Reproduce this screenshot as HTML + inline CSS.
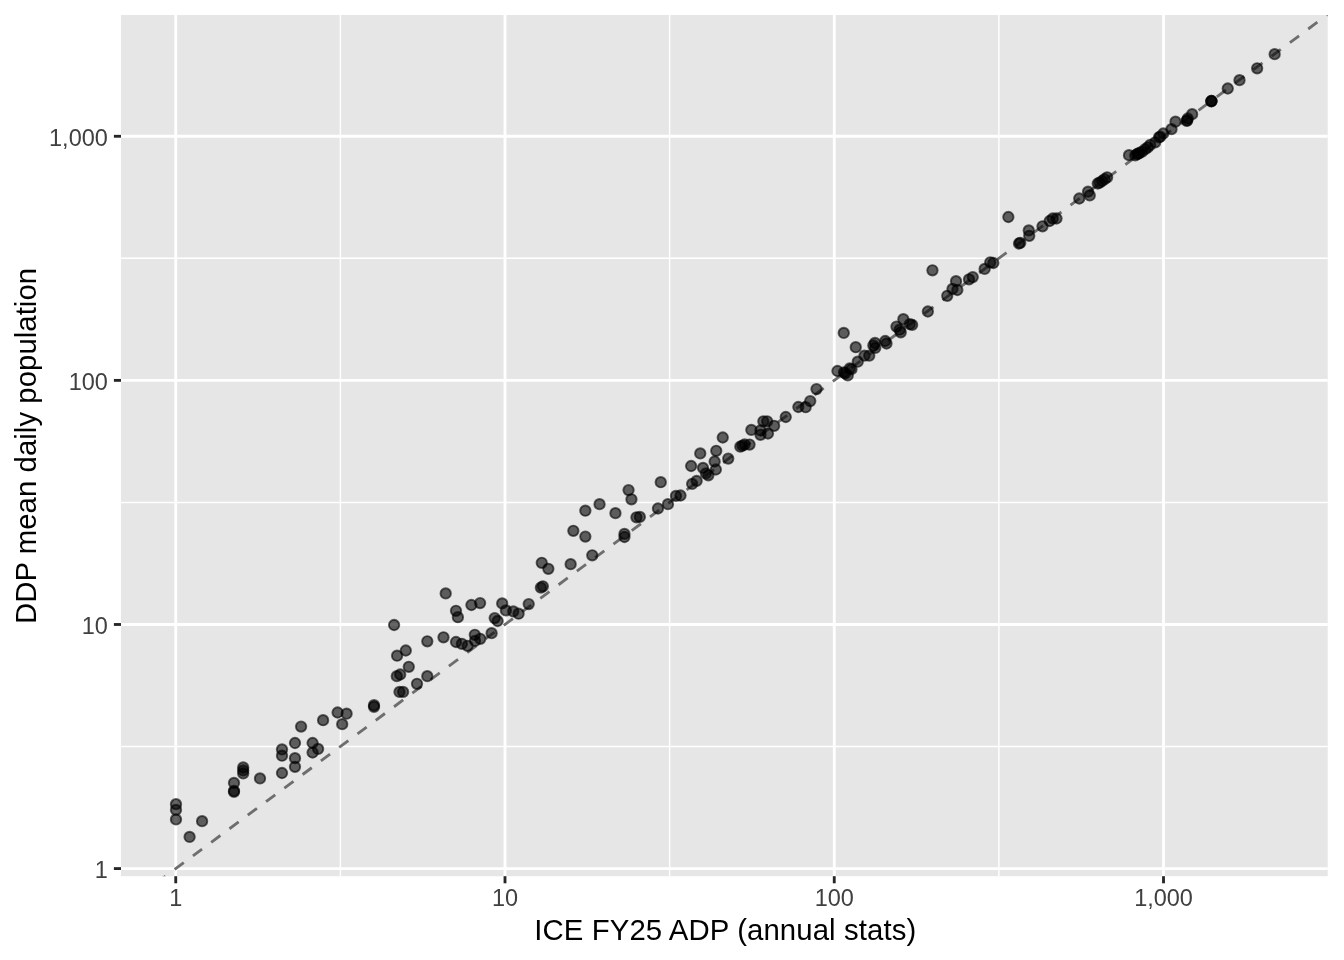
<!DOCTYPE html>
<html><head><meta charset="utf-8"><title>plot</title>
<style>html,body{margin:0;padding:0;background:#fff}svg{display:block;will-change:transform}text{font-family:"Liberation Sans",sans-serif}</style></head>
<body>
<svg width="1344" height="960" viewBox="0 0 1344 960">
<rect x="0" y="0" width="1344" height="960" fill="#ffffff"/>
<rect x="121.0" y="15.0" width="1206.7" height="861.2" fill="#E6E6E6"/>
<clipPath id="c"><rect x="121.0" y="15.0" width="1206.7" height="861.2"/></clipPath>
<g clip-path="url(#c)">
<g stroke="#ffffff" stroke-width="1.42">
<line x1="340.38" y1="10.0" x2="340.38" y2="881.2"/>
<line x1="669.62" y1="10.0" x2="669.62" y2="881.2"/>
<line x1="998.88" y1="10.0" x2="998.88" y2="881.2"/>
<line x1="116.0" y1="746.53" x2="1332.7" y2="746.53"/>
<line x1="116.0" y1="502.43" x2="1332.7" y2="502.43"/>
<line x1="116.0" y1="258.33" x2="1332.7" y2="258.33"/>
</g>
<g stroke="#ffffff" stroke-width="2.85">
<line x1="175.75" y1="10.0" x2="175.75" y2="881.2"/>
<line x1="505.00" y1="10.0" x2="505.00" y2="881.2"/>
<line x1="834.25" y1="10.0" x2="834.25" y2="881.2"/>
<line x1="1163.50" y1="10.0" x2="1163.50" y2="881.2"/>
<line x1="116.0" y1="868.58" x2="1332.7" y2="868.58"/>
<line x1="116.0" y1="624.48" x2="1332.7" y2="624.48"/>
<line x1="116.0" y1="380.38" x2="1332.7" y2="380.38"/>
<line x1="116.0" y1="136.28" x2="1332.7" y2="136.28"/>
</g>
<line x1="121.00" y1="909.17" x2="1327.70" y2="14.55" stroke="#6E6E6E" stroke-width="2.85" stroke-dasharray="11.38 11.38" stroke-dashoffset="1.5"/>
<g fill="#000" fill-opacity="0.6" stroke="#000" stroke-opacity="0.6" stroke-width="1.89">
<circle cx="176.00" cy="804.15" r="5.21"/>
<circle cx="176.00" cy="809.90" r="5.21"/>
<circle cx="176.00" cy="819.40" r="5.21"/>
<circle cx="189.60" cy="836.90" r="5.21"/>
<circle cx="202.10" cy="821.15" r="5.21"/>
<circle cx="234.00" cy="782.90" r="5.21"/>
<circle cx="234.00" cy="790.90" r="5.21"/>
<circle cx="234.00" cy="791.90" r="5.21"/>
<circle cx="243.20" cy="767.40" r="5.21"/>
<circle cx="243.20" cy="770.40" r="5.21"/>
<circle cx="243.20" cy="773.40" r="5.21"/>
<circle cx="260.00" cy="778.40" r="5.21"/>
<circle cx="282.00" cy="749.40" r="5.21"/>
<circle cx="282.00" cy="755.70" r="5.21"/>
<circle cx="282.00" cy="773.00" r="5.21"/>
<circle cx="295.00" cy="743.00" r="5.21"/>
<circle cx="295.00" cy="758.20" r="5.21"/>
<circle cx="295.00" cy="766.80" r="5.21"/>
<circle cx="301.10" cy="726.60" r="5.21"/>
<circle cx="312.60" cy="743.00" r="5.21"/>
<circle cx="312.60" cy="752.50" r="5.21"/>
<circle cx="318.10" cy="748.90" r="5.21"/>
<circle cx="323.10" cy="720.20" r="5.21"/>
<circle cx="337.60" cy="712.50" r="5.21"/>
<circle cx="346.60" cy="713.65" r="5.21"/>
<circle cx="342.20" cy="724.15" r="5.21"/>
<circle cx="374.00" cy="705.20" r="5.21"/>
<circle cx="374.00" cy="706.80" r="5.21"/>
<circle cx="394.10" cy="625.00" r="5.21"/>
<circle cx="397.10" cy="655.70" r="5.21"/>
<circle cx="405.80" cy="650.50" r="5.21"/>
<circle cx="408.80" cy="666.80" r="5.21"/>
<circle cx="396.80" cy="676.15" r="5.21"/>
<circle cx="400.20" cy="674.50" r="5.21"/>
<circle cx="399.50" cy="691.90" r="5.21"/>
<circle cx="403.10" cy="691.90" r="5.21"/>
<circle cx="417.00" cy="683.80" r="5.21"/>
<circle cx="427.30" cy="676.15" r="5.21"/>
<circle cx="427.30" cy="641.30" r="5.21"/>
<circle cx="443.50" cy="637.30" r="5.21"/>
<circle cx="445.70" cy="593.40" r="5.21"/>
<circle cx="456.00" cy="610.80" r="5.21"/>
<circle cx="457.90" cy="617.20" r="5.21"/>
<circle cx="471.40" cy="605.00" r="5.21"/>
<circle cx="480.10" cy="603.10" r="5.21"/>
<circle cx="456.00" cy="642.00" r="5.21"/>
<circle cx="461.90" cy="643.80" r="5.21"/>
<circle cx="467.60" cy="645.80" r="5.21"/>
<circle cx="474.80" cy="634.80" r="5.21"/>
<circle cx="475.00" cy="640.90" r="5.21"/>
<circle cx="480.25" cy="638.80" r="5.21"/>
<circle cx="491.60" cy="633.15" r="5.21"/>
<circle cx="494.70" cy="618.10" r="5.21"/>
<circle cx="497.60" cy="621.00" r="5.21"/>
<circle cx="502.20" cy="603.40" r="5.21"/>
<circle cx="505.90" cy="610.40" r="5.21"/>
<circle cx="513.30" cy="611.40" r="5.21"/>
<circle cx="518.60" cy="613.70" r="5.21"/>
<circle cx="528.70" cy="604.10" r="5.21"/>
<circle cx="541.75" cy="562.80" r="5.21"/>
<circle cx="548.35" cy="568.80" r="5.21"/>
<circle cx="540.85" cy="587.60" r="5.21"/>
<circle cx="542.85" cy="586.30" r="5.21"/>
<circle cx="570.65" cy="564.15" r="5.21"/>
<circle cx="573.35" cy="530.80" r="5.21"/>
<circle cx="585.35" cy="536.60" r="5.21"/>
<circle cx="585.35" cy="510.70" r="5.21"/>
<circle cx="592.25" cy="555.30" r="5.21"/>
<circle cx="599.55" cy="504.15" r="5.21"/>
<circle cx="615.45" cy="513.15" r="5.21"/>
<circle cx="624.45" cy="533.90" r="5.21"/>
<circle cx="624.45" cy="537.00" r="5.21"/>
<circle cx="628.55" cy="490.10" r="5.21"/>
<circle cx="631.45" cy="499.30" r="5.21"/>
<circle cx="636.45" cy="517.30" r="5.21"/>
<circle cx="639.85" cy="516.90" r="5.21"/>
<circle cx="657.95" cy="508.50" r="5.21"/>
<circle cx="660.75" cy="482.20" r="5.21"/>
<circle cx="667.95" cy="504.15" r="5.21"/>
<circle cx="675.95" cy="495.90" r="5.21"/>
<circle cx="680.50" cy="495.50" r="5.21"/>
<circle cx="692.15" cy="483.90" r="5.21"/>
<circle cx="696.65" cy="480.90" r="5.21"/>
<circle cx="691.15" cy="466.00" r="5.21"/>
<circle cx="700.25" cy="453.40" r="5.21"/>
<circle cx="703.00" cy="467.90" r="5.21"/>
<circle cx="705.95" cy="473.40" r="5.21"/>
<circle cx="708.35" cy="475.30" r="5.21"/>
<circle cx="714.65" cy="461.50" r="5.21"/>
<circle cx="715.85" cy="469.50" r="5.21"/>
<circle cx="716.25" cy="450.80" r="5.21"/>
<circle cx="722.75" cy="437.50" r="5.21"/>
<circle cx="728.25" cy="458.60" r="5.21"/>
<circle cx="740.30" cy="446.65" r="5.21"/>
<circle cx="742.45" cy="445.60" r="5.21"/>
<circle cx="744.65" cy="444.50" r="5.21"/>
<circle cx="749.55" cy="444.55" r="5.21"/>
<circle cx="751.35" cy="429.90" r="5.21"/>
<circle cx="760.50" cy="430.40" r="5.21"/>
<circle cx="760.50" cy="434.80" r="5.21"/>
<circle cx="767.95" cy="433.50" r="5.21"/>
<circle cx="763.35" cy="421.30" r="5.21"/>
<circle cx="767.15" cy="421.30" r="5.21"/>
<circle cx="774.15" cy="425.80" r="5.21"/>
<circle cx="785.75" cy="417.00" r="5.21"/>
<circle cx="798.35" cy="407.00" r="5.21"/>
<circle cx="805.65" cy="407.20" r="5.21"/>
<circle cx="810.25" cy="401.10" r="5.21"/>
<circle cx="816.50" cy="389.10" r="5.21"/>
<circle cx="837.45" cy="371.00" r="5.21"/>
<circle cx="844.00" cy="372.30" r="5.21"/>
<circle cx="845.25" cy="373.50" r="5.21"/>
<circle cx="847.75" cy="375.40" r="5.21"/>
<circle cx="849.65" cy="368.50" r="5.21"/>
<circle cx="851.50" cy="369.15" r="5.21"/>
<circle cx="843.75" cy="332.90" r="5.21"/>
<circle cx="857.75" cy="361.65" r="5.21"/>
<circle cx="855.75" cy="347.20" r="5.21"/>
<circle cx="864.45" cy="355.65" r="5.21"/>
<circle cx="869.25" cy="355.65" r="5.21"/>
<circle cx="873.35" cy="345.40" r="5.21"/>
<circle cx="875.00" cy="342.90" r="5.21"/>
<circle cx="875.25" cy="347.90" r="5.21"/>
<circle cx="885.25" cy="341.00" r="5.21"/>
<circle cx="886.50" cy="343.50" r="5.21"/>
<circle cx="896.45" cy="326.60" r="5.21"/>
<circle cx="899.65" cy="329.70" r="5.21"/>
<circle cx="900.75" cy="332.30" r="5.21"/>
<circle cx="903.35" cy="319.15" r="5.21"/>
<circle cx="909.75" cy="324.15" r="5.21"/>
<circle cx="912.15" cy="324.90" r="5.21"/>
<circle cx="927.85" cy="311.50" r="5.21"/>
<circle cx="932.45" cy="270.30" r="5.21"/>
<circle cx="947.25" cy="295.80" r="5.21"/>
<circle cx="952.50" cy="288.90" r="5.21"/>
<circle cx="957.35" cy="290.00" r="5.21"/>
<circle cx="956.05" cy="281.20" r="5.21"/>
<circle cx="969.00" cy="279.30" r="5.21"/>
<circle cx="972.75" cy="277.10" r="5.21"/>
<circle cx="984.65" cy="268.90" r="5.21"/>
<circle cx="990.25" cy="262.30" r="5.21"/>
<circle cx="993.35" cy="263.00" r="5.21"/>
<circle cx="1008.35" cy="217.00" r="5.21"/>
<circle cx="1019.00" cy="243.50" r="5.21"/>
<circle cx="1020.25" cy="242.90" r="5.21"/>
<circle cx="1028.75" cy="230.40" r="5.21"/>
<circle cx="1029.25" cy="235.80" r="5.21"/>
<circle cx="1042.50" cy="226.30" r="5.21"/>
<circle cx="1049.65" cy="221.00" r="5.21"/>
<circle cx="1052.75" cy="218.50" r="5.21"/>
<circle cx="1056.50" cy="218.50" r="5.21"/>
<circle cx="1079.25" cy="198.50" r="5.21"/>
<circle cx="1088.05" cy="191.65" r="5.21"/>
<circle cx="1089.75" cy="195.40" r="5.21"/>
<circle cx="1097.75" cy="183.50" r="5.21"/>
<circle cx="1099.65" cy="182.65" r="5.21"/>
<circle cx="1102.15" cy="181.00" r="5.21"/>
<circle cx="1104.65" cy="179.15" r="5.21"/>
<circle cx="1107.15" cy="177.30" r="5.21"/>
<circle cx="1129.00" cy="155.15" r="5.21"/>
<circle cx="1135.25" cy="155.40" r="5.21"/>
<circle cx="1137.15" cy="154.15" r="5.21"/>
<circle cx="1138.15" cy="153.70" r="5.21"/>
<circle cx="1139.65" cy="152.90" r="5.21"/>
<circle cx="1142.15" cy="151.65" r="5.21"/>
<circle cx="1145.25" cy="149.15" r="5.21"/>
<circle cx="1147.75" cy="147.30" r="5.21"/>
<circle cx="1150.25" cy="144.80" r="5.21"/>
<circle cx="1155.25" cy="142.30" r="5.21"/>
<circle cx="1159.00" cy="137.30" r="5.21"/>
<circle cx="1160.25" cy="136.65" r="5.21"/>
<circle cx="1163.35" cy="133.50" r="5.21"/>
<circle cx="1171.50" cy="129.15" r="5.21"/>
<circle cx="1175.50" cy="121.65" r="5.21"/>
<circle cx="1187.15" cy="120.40" r="5.21"/>
<circle cx="1186.75" cy="120.90" r="5.21"/>
<circle cx="1187.75" cy="118.50" r="5.21"/>
<circle cx="1192.15" cy="114.15" r="5.21"/>
<circle cx="1211.50" cy="101.00" r="5.21"/>
<circle cx="1211.50" cy="101.00" r="5.21"/>
<circle cx="1211.25" cy="101.30" r="5.21"/>
<circle cx="1227.75" cy="88.50" r="5.21"/>
<circle cx="1239.50" cy="80.15" r="5.21"/>
<circle cx="1257.15" cy="68.30" r="5.21"/>
<circle cx="1274.65" cy="54.15" r="5.21"/>
</g>
</g>
<g stroke="#262626" stroke-width="2.85">
<line x1="175.75" y1="876.2" x2="175.75" y2="883.30"/>
<line x1="113.90" y1="868.58" x2="121.0" y2="868.58"/>
<line x1="505.00" y1="876.2" x2="505.00" y2="883.30"/>
<line x1="113.90" y1="624.48" x2="121.0" y2="624.48"/>
<line x1="834.25" y1="876.2" x2="834.25" y2="883.30"/>
<line x1="113.90" y1="380.38" x2="121.0" y2="380.38"/>
<line x1="1163.50" y1="876.2" x2="1163.50" y2="883.30"/>
<line x1="113.90" y1="136.28" x2="121.0" y2="136.28"/>
</g>
<g fill="#404040" font-size="23.47px">
<text x="175.75" y="906" text-anchor="middle">1</text>
<text x="505.00" y="906" text-anchor="middle">10</text>
<text x="834.25" y="906" text-anchor="middle">100</text>
<text x="1163.50" y="906" text-anchor="middle">1,000</text>
<text x="107.8" y="877.98" text-anchor="end">1</text>
<text x="107.8" y="633.88" text-anchor="end">10</text>
<text x="107.8" y="389.78" text-anchor="end">100</text>
<text x="107.8" y="145.68" text-anchor="end">1,000</text>
</g>
<text x="725.3" y="939.6" text-anchor="middle" font-size="29.33px" letter-spacing="0.1" fill="#000">ICE FY25 ADP (annual stats)</text>
<text transform="translate(36.3,445.9) rotate(-90)" text-anchor="middle" font-size="29.33px" letter-spacing="0.05" fill="#000">DDP mean daily population</text>
</svg>
</body></html>
